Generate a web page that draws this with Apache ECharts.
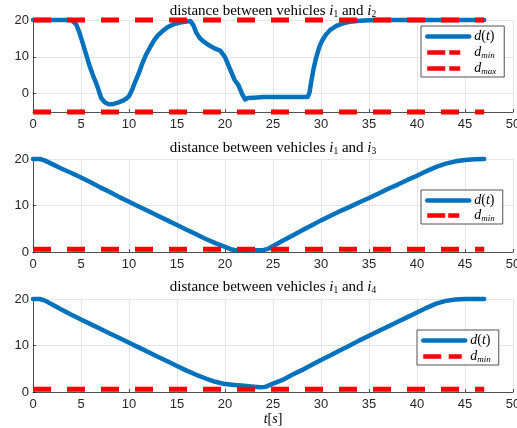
<!DOCTYPE html>
<html>
<head>
<meta charset="utf-8">
<script src="https://cdn.jsdelivr.net/npm/echarts@6/dist/echarts.min.js"></script>
<style>
  html, body { margin: 0; padding: 0; background: #fff; }
  #chart { width: 517px; height: 428px; }
</style>
</head>
<body>
<div id="chart"></div>
<script>
// Time axis ticks (seconds)
const X_TICKS = [0, 5, 10, 15, 20, 25, 30, 35, 40, 45, 50];

// Distance between vehicles i1 and i2
const T12 = [0, 1, 2, 3, 4, 4.2, 4.5, 4.8, 5.1, 5.4, 5.9, 6.3, 6.7, 7.1, 7.5, 7.9, 8.4, 8.9, 9.3, 9.7,
  10.0, 10.3, 10.6, 11.0, 11.4, 11.8, 12.2, 12.6, 13.0, 13.5, 14.0, 14.6, 15.3, 16.0, 16.4, 16.7, 17.0,
  17.4, 17.8, 18.3, 18.9, 19.5, 20.0, 20.5, 21.0, 21.4, 21.8, 22.1, 22.4, 23.0, 24.0, 25, 26, 27, 28,
  28.6, 28.8, 29.0, 29.2, 29.5, 29.8, 30.1, 30.5, 31.0, 31.6, 32.3, 33.0, 34.0, 35.0, 36, 38, 40, 42, 44, 46, 47];
const D12 = [20, 20, 20, 20, 20, 19.9, 18.8, 16.8, 14.4, 11.8, 7.5, 4.6, 2.0, -1.2, -2.4, -2.9, -2.8, -2.4, -2.0, -1.4,
  -0.7, 0.9, 2.9, 5.4, 8.3, 10.7, 12.6, 14.4, 15.8, 17.0, 18.0, 18.8, 19.3, 19.6, 19.7, 18.6, 16.6,
  15.0, 14.1, 13.2, 12.3, 11.7, 9.9, 6.8, 3.7, 2.3, -0.2, -1.6, -1.2, -1.1, -0.9, -0.9, -0.9, -0.9, -0.9,
  -0.9, 0.2, 3.5, 6.4, 9.8, 12.5, 14.3, 16.0, 17.4, 18.4, 19.1, 19.5, 19.8, 19.9, 20, 20, 20, 20, 20, 20, 20];

// Distance between vehicles i1 and i3
const T13 = [0, 0.7, 1.2, 2, 3, 4, 5, 6, 7, 8, 9, 10, 11, 12, 13, 14, 15, 16, 17, 18, 19, 20, 20.6, 21.2,
  22, 23, 24, 24.6, 25.3, 26, 27, 28, 29, 30, 31, 32, 33, 34, 35, 36, 37, 38, 39, 40, 41, 42, 43, 44, 45, 46, 47];
const D13 = [20, 20, 19.7, 18.9, 17.9, 17.0, 16.0, 15.0, 13.9, 12.9, 11.8, 10.8, 9.8, 8.8, 7.8, 6.8, 5.8, 4.8,
  3.8, 2.8, 1.9, 1.1, 0.6, 0.35, 0.35, 0.35, 0.4, 0.8, 1.6, 2.4, 3.5, 4.6, 5.7, 6.8, 7.8, 8.8, 9.7, 10.7,
  11.6, 12.6, 13.6, 14.5, 15.5, 16.4, 17.4, 18.3, 19.0, 19.5, 19.8, 19.95, 20];

// Distance between vehicles i1 and i4
const T14 = [0, 0.7, 1.2, 2, 3, 4, 5, 6, 7, 8, 9, 10, 11, 12, 13, 14, 15, 16, 17, 18, 19, 20, 21, 22, 23,
  23.7, 24.2, 25, 26, 27, 28, 29, 30, 31, 32, 33, 34, 35, 36, 37, 38, 39, 40, 41, 42, 43, 44, 45, 46, 47];
const D14 = [20, 20, 19.7, 18.8, 17.7, 16.6, 15.6, 14.6, 13.6, 12.6, 11.6, 10.6, 9.6, 8.6, 7.6, 6.6, 5.6, 4.6,
  3.7, 2.9, 2.2, 1.7, 1.5, 1.35, 1.15, 1.0, 1.1, 1.8, 2.6, 3.7, 4.7, 5.8, 6.9, 7.9, 9.0, 10.0, 11.1, 12.1,
  13.1, 14.1, 15.1, 16.1, 17.1, 18.1, 19.0, 19.6, 19.9, 20, 20, 20];

// Safety bounds, drawn over the simulated horizon
const T_BOUND = [0, 47];
const DMIN_12 = -5, DMAX_12 = 20;
const DMIN_13 = 0.6;
const DMIN_14 = 0.6;

// Y-axis ranges and labelled ticks per panel
const Y_RANGE = [[-5, 20], [0, 20], [0, 20]];
const Y_TICKS = [[0, 10, 20], [0, 10, 20], [0, 10, 20]];

const pairs = (ts, ds) => ts.map((t, i) => [t, ds[i]]);
const flat = (ts, v) => ts.map(t => [t, v]);

const BLUE = '#0072BD';
const RED = '#FF0000';
const AXIS = '#262626';
const GRID = '#e5e5e5';
const SERIF = '"Liberation Serif", "DejaVu Serif", serif';
const SANS = '"Liberation Sans", Arial, Helvetica, sans-serif';

const GRIDS = [
  { left: 33, width: 480, top: 20, height: 92, outerBoundsMode: 'none', containLabel: false },
  { left: 33, width: 480, top: 159, height: 93, outerBoundsMode: 'none', containLabel: false },
  { left: 33, width: 480, top: 299, height: 93, outerBoundsMode: 'none', containLabel: false }
];

const mathRich = {
  i: { fontFamily: SERIF, fontStyle: 'italic', fontSize: 14, color: '#000', lineHeight: 15 },
  n: { fontFamily: SERIF, fontSize: 14, color: '#000', lineHeight: 15 },
  sub: { fontFamily: SERIF, fontSize: 9, color: '#000', verticalAlign: 'bottom', lineHeight: 10 },
  subi: { fontFamily: SERIF, fontStyle: 'italic', fontSize: 9, color: '#000', verticalAlign: 'bottom', lineHeight: 10 }
};

const legendLabel = {
  'd(t)': '{i|d}{n|(}{i|t}{n|)}',
  'd_min': '{i|d}{subi|min}',
  'd_max': '{i|d}{subi|max}'
};

function xAxis(idx) {
  const ax = {
    type: 'value', gridIndex: idx, min: 0, max: 50, interval: 5,
    axisLine: { show: true, onZero: false, lineStyle: { color: AXIS, width: 0.8 } },
    axisTick: { show: true, inside: true, length: 3, lineStyle: { color: AXIS, width: 0.8 } },
    axisLabel: { color: AXIS, fontFamily: SANS, fontSize: 13, margin: 6,
      customValues: X_TICKS, showMinLabel: true, showMaxLabel: true, hideOverlap: false },
    splitLine: { show: true, lineStyle: { color: GRID, width: 1 } }
  };
  if (idx === 2) {
    ax.name = '{i|t}{n|[}{i|s}{n|]}';
    ax.nameLocation = 'middle';
    ax.nameGap = 19;
    ax.nameTextStyle = { rich: mathRich };
  }
  return ax;
}

function yAxis(idx) {
  return {
    type: 'value', gridIndex: idx, min: Y_RANGE[idx][0], max: Y_RANGE[idx][1], interval: 5,
    axisLine: { show: true, lineStyle: { color: AXIS, width: 0.8 } },
    axisTick: { show: true, inside: true, length: 3, customValues: Y_TICKS[idx], lineStyle: { color: AXIS, width: 0.8 } },
    axisLabel: { color: AXIS, fontFamily: SANS, fontSize: 13, margin: 4, customValues: Y_TICKS[idx] },
    splitLine: { show: true, lineStyle: { color: GRID, width: 1 } }
  };
}

function distSeries(idx, data) {
  return { name: 'd(t)', type: 'line', xAxisIndex: idx, yAxisIndex: idx, data: data,
    symbol: 'none', smooth: false, clip: false, animation: false,
    lineStyle: { color: BLUE, width: 4.5, join: 'round', cap: 'round' }, itemStyle: { color: BLUE } };
}

function boundSeries(idx, name, value) {
  return { name: name, type: 'line', xAxisIndex: idx, yAxisIndex: idx, data: flat(T_BOUND, value),
    symbol: 'none', clip: false, animation: false, z: 3,
    lineStyle: { color: RED, width: 5, type: [18, 16], cap: 'butt' }, itemStyle: { color: RED } };
}

function legend(left, top, gap, dash) {
  const items = gap.names.map(n => n === 'd(t)' ? { name: n } : { name: n, lineStyle: { type: dash } });
  return {
    orient: 'vertical', left: left, top: top, data: items,
    itemWidth: 42, itemHeight: 14, itemGap: gap.itemGap,
    padding: [3, 8, 1, 4], borderColor: AXIS, borderWidth: 0.8, backgroundColor: '#fff',
    selectedMode: false, align: 'left',
    lineStyle: { width: 4.5, opacity: 1 },
    itemStyle: { opacity: 0, borderWidth: 0 },
    formatter: name => legendLabel[name],
    textStyle: { rich: mathRich, fontFamily: SERIF, fontSize: 14, lineHeight: 15 }
  };
}

const titleRich = {
  i: { fontFamily: SERIF, fontStyle: 'italic', fontSize: 15, fill: '#000', lineHeight: 17 },
  sub: { fontFamily: SERIF, fontSize: 9.5, fill: '#000', verticalAlign: 'bottom', lineHeight: 11 }
};

function titleText(y, k) {
  return {
    type: 'text', x: 273, y: y, silent: true,
    style: {
      text: 'distance between vehicles {i|i}{sub|1} and {i|i}{sub|' + k + '}',
      fontFamily: SERIF, fontSize: 15, fill: '#000', align: 'center', verticalAlign: 'middle',
      rich: titleRich
    }
  };
}

const chart = echarts.init(document.getElementById('chart'), null, { renderer: 'canvas' });
chart.setOption({
  animation: false,
  backgroundColor: '#fff',
  grid: GRIDS,
  xAxis: [xAxis(0), xAxis(1), xAxis(2)],
  yAxis: [yAxis(0), yAxis(1), yAxis(2)],
  legend: [
    legend(421, 26, { names: ['d(t)', 'd_min', 'd_max'], itemGap: 1 }, [18, 4, 11, 30]),
    legend(421, 190, { names: ['d(t)', 'd_min'], itemGap: 0 }, [18, 3, 11, 30]),
    legend(417, 330, { names: ['d(t)', 'd_min'], itemGap: 1 }, [18, 7.5, 13, 30])
  ],
  graphic: [titleText(11, '2'), titleText(148, '3'), titleText(287, '4')],
  series: [
    distSeries(0, pairs(T12, D12)),
    boundSeries(0, 'd_min', DMIN_12),
    boundSeries(0, 'd_max', DMAX_12),
    distSeries(1, pairs(T13, D13)),
    boundSeries(1, 'd_min', DMIN_13),
    distSeries(2, pairs(T14, D14)),
    boundSeries(2, 'd_min', DMIN_14)
  ]
});
</script>
</body>
</html>
